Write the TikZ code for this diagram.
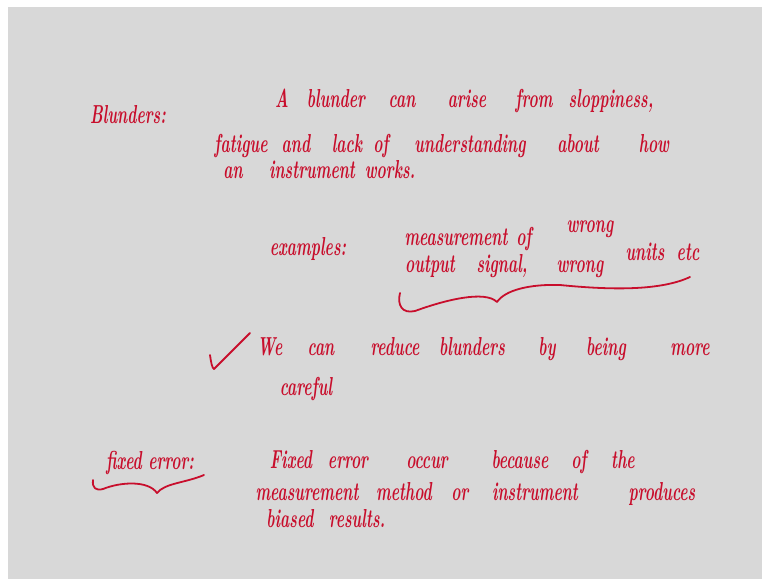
\documentclass[tikz,border=0pt]{standalone}
\definecolor{ink}{RGB}{200,14,44}
\definecolor{board}{RGB}{216,216,216}
\newcommand\hw[1]{\scalebox{0.6}[1]{#1}}
\tikzset{
  word/.style={text=ink, font=\fontsize{26}{30}\selectfont\bfseries\itshape, anchor=base, inner sep=0pt},
  pen/.style={draw=ink, line width=1.8pt, line cap=round, line join=round}
}
\begin{document}
\begin{tikzpicture}[x=1pt,y=-1pt]
\useasboundingbox (0,0) rectangle (762,579);
\fill[white] (0,0) rectangle (762,579);
\fill[board] (8,7) rectangle (762,579);
% Blunders
\node[word] (hb) at (128,123) {\hw{Blunders:}};
\node[word] (a1) at (282,107) {\hw{A}};
\node[word] (a2) at (336,107) {\hw{blunder}};
\node[word] (a3) at (402,107) {\hw{can}};
\node[word] (a4) at (467,107) {\hw{arise}};
\node[word] (a5) at (534,107) {\hw{from}};
\node[word] (a6) at (611,107) {\hw{sloppiness,}};
\node[word] (b1) at (241,152) {\hw{fatigue}};
\node[word] (b2) at (296,152) {\hw{and}};
\node[word] (b3) at (347,152) {\hw{lack}};
\node[word] (b4) at (381,152) {\hw{of}};
\node[word] (b5) at (470,152) {\hw{understanding}};
\node[word] (b6) at (578,152) {\hw{about}};
\node[word] (b7) at (654,152) {\hw{how}};
\node[word] (c1) at (233,178) {\hw{an}};
\node[word] (c2) at (312,178) {\hw{instrument}};
\node[word] (c3) at (390,178) {\hw{works.}};
% examples
\node[word] (e0) at (308,255) {\hw{examples:}};
\node[word] (e1) at (456,245) {\hw{measurement}};
\node[word] (e2) at (524,245) {\hw{of}};
\node[word] (e3) at (590,232) {\hw{wrong}};
\node[word] (f1) at (430,272) {\hw{output}};
\node[word] (f2) at (502,272) {\hw{signal,}};
\node[word] (f3) at (580,272) {\hw{wrong}};
\node[word] (f4) at (645,260) {\hw{units}};
\node[word] (f5) at (688,260) {\hw{etc}};
\draw[pen] (400,293) .. controls (397,305) and (402,314) .. (415,311)
  .. controls (445,300) and (485,290) .. (497,302)
  .. controls (505,290) and (530,284) .. (560,285)
  .. controls (610,290) and (660,291) .. (690,277);
% check
\coordinate (k1) at (210,355);
\coordinate (k2) at (214,369);
\coordinate (k3) at (250,333);
\draw[pen] (k1) .. controls (211,362) and (212,368) .. (k2) -- (k3);
\node[word] (g1) at (270,355) {\hw{We}};
\node[word] (g2) at (321,355) {\hw{can}};
\node[word] (g3) at (395,355) {\hw{reduce}};
\node[word] (g4) at (472,355) {\hw{blunders}};
\node[word] (g5) at (547,355) {\hw{by}};
\node[word] (g6) at (606,355) {\hw{being}};
\node[word] (g7) at (690,355) {\hw{more}};
\node[word] (h1) at (306,395) {\hw{careful}};
% fixed error
\node[word] (fe) at (150,469) {\hw{fixed error:}};
\draw[pen] (93,480) .. controls (92,488) and (96,491) .. (103,489)
  .. controls (120,482) and (148,480) .. (157,493)
  .. controls (165,483) and (185,483) .. (204,475);
\node[word] (m1) at (291,468) {\hw{Fixed}};
\node[word] (m2) at (348,468) {\hw{error}};
\node[word] (m3) at (427,468) {\hw{occur}};
\node[word] (m4) at (520,468) {\hw{because}};
\node[word] (m5) at (579,468) {\hw{of}};
\node[word] (m6) at (623,468) {\hw{the}};
\node[word] (n1) at (307,500) {\hw{measurement}};
\node[word] (n2) at (404,500) {\hw{method}};
\node[word] (n3) at (460,500) {\hw{or}};
\node[word] (n4) at (535,500) {\hw{instrument}};
\node[word] (n5) at (662,500) {\hw{produces}};
\node[word] (p1) at (290,527) {\hw{biased}};
\node[word] (p2) at (357,527) {\hw{results.}};
\end{tikzpicture}
\end{document}
